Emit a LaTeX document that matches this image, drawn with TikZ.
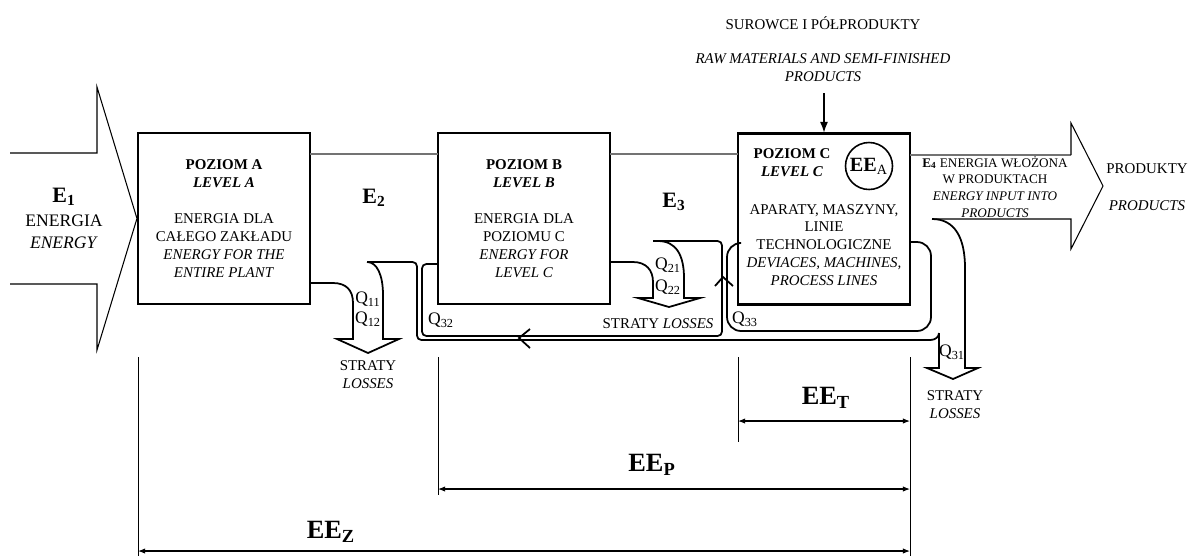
\documentclass[tikz,border=0pt]{standalone}
\usepackage{fontspec}
\setmainfont{Liberation Serif}
\usetikzlibrary{arrows.meta}

\begin{document}
\begin{tikzpicture}[x=0.02cm,y=-0.02cm]
    \newcommand\qlab[2]{\node[ql] (q#2) at (#1) {Q\textsubscript{#2}};}
    \tikzstyle{level}=[draw,line width=1.2pt,minimum width=3.44cm,minimum height=3.42cm,inner sep=0pt,align=center,font=\fontsize{8.5}{10.2}\selectfont]
    \tikzstyle{txt}=[inner sep=0pt,align=center,font=\fontsize{8.5}{10.2}\selectfont]
    \tikzstyle{small}=[inner sep=0pt,align=center,font=\fontsize{7.5}{9.6}\selectfont]
    \tikzstyle{ql}=[inner sep=0pt,font=\fontsize{10}{12}\selectfont]
    \tikzstyle{en}=[inner sep=0pt,font=\fontsize{12.5}{14}\selectfont\bfseries]
    \tikzstyle{ee}=[inner sep=0pt,font=\fontsize{15}{17}\selectfont\bfseries]
    \tikzstyle{link}=[line width=0.7pt,black!55]
    \tikzstyle{flow}=[line width=0.6pt]
    \tikzstyle{loss}=[line width=1pt]
    \tikzstyle{back}=[line width=1pt,rounded corners=2.5pt]
    \tikzstyle{dim}=[line width=0.5pt]
    \tikzstyle{span}=[line width=0.6pt,{Latex[length=4pt,width=3pt]}-{Latex[length=4pt,width=3pt]}]
    \useasboundingbox (0,0) rectangle (1193,556);
    % poziomy A, B, C
    \node[level] at (224,218.5) (A) {\textbf{POZIOM A}\\\textbf{\textit{LEVEL A}}\\[10.2pt]ENERGIA DLA\\CAŁEGO ZAKŁADU\\\textit{ENERGY FOR THE}\\\textit{ENTIRE PLANT}};
    \node[level] at (524,218.5) (B) {\textbf{POZIOM B}\\\textbf{\textit{LEVEL B}}\\[10.2pt]ENERGIA DLA\\POZIOMU C\\\textit{ENERGY FOR}\\\textit{LEVEL C}};
    \node[level] at (824,219) (C) {};
    \node[txt] at (792,163) (Ch) {\textbf{POZIOM C}\\\textbf{\textit{LEVEL C}}};
    \node[txt] at (824,245) (Cd) {APARATY, MASZYNY,\\LINIE\\TECHNOLOGICZNE\\\textit{DEVIACES, MACHINES,}\\\textit{PROCESS LINES}};
    \node[circle,draw,line width=0.9pt,minimum size=0.94cm,inner sep=0pt,font=\fontsize{11.5}{13}\selectfont] at (869,166) (EEA) {\textbf{EE}\textsubscript{A}};
    % surowce
    \node[txt] at (823,23) (sur) {SUROWCE I PÓŁPRODUKTY};
    \node[txt] at (823,68) (raw) {\textit{RAW MATERIALS AND SEMI-FINISHED}\\\textit{PRODUCTS}};
    \coordinate (in) at (824,93);
    \draw[flow,-{Latex[length=6pt,width=4.5pt]}] (in) -- (C.north);
    % energia
    \node[en] at (64,197) (e1) {E\textsubscript{1}};
    \node[txt,font=\fontsize{10}{12.3}\selectfont] at (64,231.5) (e1t) {ENERGIA\\\textit{ENERGY}};
    \node[en] at (374,198) (e2) {E\textsubscript{2}};
    \node[en] at (674,202) (e3) {E\textsubscript{3}};
    \node[small] at (995,187) (e4) {\textbf{E\textsubscript{4}} ENERGIA WŁOŻONA\\W PRODUKTACH\\\textit{ENERGY INPUT INTO}\\\textit{PRODUCTS}};
    \node[txt] at (1147,169) (prod) {PRODUKTY};
    \node[txt] at (1147,206) (prodt) {\textit{PRODUCTS}};
    \draw[flow] (10,153) -- (97,153) -- (97,87) -- (A.west) -- (97,350) -- (97,284) -- (10,284);
    \draw[link] (310,154) -- (438,154) (610,154) -- (738,154) (910,155) -- (1071,155);
    \draw[flow] (1071,155) -- (1071,123) -- (1103,186) -- (1071,249) -- (1071,219) -- (932,219);
    % straty
    \draw[loss] (310,283) -- (333,283) .. controls (346,283) and (353,290) .. (353,303) -- (353,339)
        -- (337,339) -- (368,353) -- (399,339) -- (383,339) -- (383,295) .. controls (383,275) and (377,262) .. (367,262);
    \draw[loss] (610,262) -- (633,262) .. controls (646,262) and (653,270) .. (653,282) -- (653,298)
        -- (638,298) -- (669,307) -- (700,298) -- (684,298) -- (684,278) .. controls (684,255) and (676,241) .. (658,241);
    \draw[loss] (932,219) .. controls (955,219) and (965,238) .. (965,268) -- (965,368)
        -- (978,368) -- (953,379) -- (927,368) -- (939,368) -- (939,333);
    \draw[back] (367,262) -- (417,262) -- (417,340) -- (926,340) .. controls (935,340) and (939,337) .. (939,333);
    \draw[back] (653,241) -- (722,241) -- (722,336) -- (422,336) -- (422,264) -- (438,264);
    \draw[back,rounded corners=8pt] (910,242) -- (931,242) -- (931,331) -- (727,331) -- (727,243) -- (738,243);
    \draw[loss] (530,329) -- (519,338) -- (530,348);
    \draw[loss] (715,286) -- (723,277) -- (733,286);
    \qlab{368,299}{11}
    \qlab{368,319}{12}
    \qlab{668,265}{21}
    \qlab{668,287}{22}
    \qlab{441,320}{32}
    \qlab{745,319}{33}
    \qlab{952,352}{31}
    \node[txt] at (368,375) (s1) {STRATY\\\textit{LOSSES}};
    \node[txt] at (658,324) (s2) {STRATY \textit{LOSSES}};
    \node[txt] at (955,405) (s3) {STRATY\\\textit{LOSSES}};
    % zakresy EE
    \draw[dim] (138,357) -- (138,556) (438,357) -- (438,495) (738,357) -- (738,442) (910,357) -- (910,556);
    \coordinate (tL) at (738,421); \coordinate (tR) at (910,421);
    \coordinate (pL) at (438,489); \coordinate (pR) at (910,489);
    \coordinate (zL) at (138,551); \coordinate (zR) at (910,551);
    \draw[span] (tL) -- (tR);
    \draw[span] (pL) -- (pR);
    \draw[span] (zL) -- (zR);
    \node[ee] at (826,398) (eet) {EE\textsubscript{T}};
    \node[ee] at (652,465) (eep) {EE\textsubscript{P}};
    \node[ee] at (331,532) (eez) {EE\textsubscript{Z}};
\end{tikzpicture}
\end{document}
